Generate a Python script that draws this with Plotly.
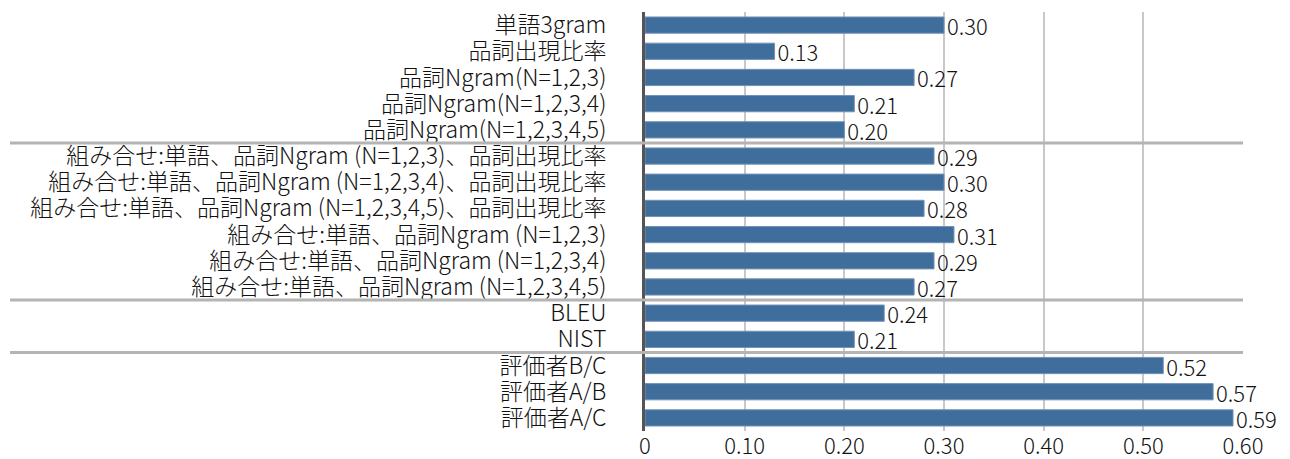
import plotly.graph_objects as go

# Correlation scores per evaluation method (top to bottom)
methods = [
    "単語3gram",
    "品詞出現比率",
    "品詞Ngram(N=1,2,3)",
    "品詞Ngram(N=1,2,3,4)",
    "品詞Ngram(N=1,2,3,4,5)",
    "組み合せ:単語、品詞Ngram (N=1,2,3)、品詞出現比率",
    "組み合せ:単語、品詞Ngram (N=1,2,3,4)、品詞出現比率",
    "組み合せ:単語、品詞Ngram (N=1,2,3,4,5)、品詞出現比率",
    "組み合せ:単語、品詞Ngram (N=1,2,3)",
    "組み合せ:単語、品詞Ngram (N=1,2,3,4)",
    "組み合せ:単語、品詞Ngram (N=1,2,3,4,5)",
    "BLEU",
    "NIST",
    "評価者B/C",
    "評価者A/B",
    "評価者A/C",
]
scores = [0.30, 0.13, 0.27, 0.21, 0.20, 0.29, 0.30, 0.28, 0.31, 0.29, 0.27,
          0.24, 0.21, 0.52, 0.57, 0.59]
x_ticks = [0, 0.1, 0.2, 0.3, 0.4, 0.5, 0.6]
x_tick_labels = ["0", "0.10", "0.20", "0.30", "0.40", "0.50", "0.60"]
# group boundaries (between row indices)
group_breaks = [4.5, 10.5, 12.5]

FONT = "Noto Sans CJK JP"

fig = go.Figure(
    go.Bar(
        x=scores,
        y=methods,
        orientation="h",
        marker=dict(color="#3f6d9c", line=dict(color="#7393b5", width=1)),
        text=[f"{v:.2f}" for v in scores],
        textposition="outside",
        constraintext="none",
        textfont=dict(family=FONT, size=22, color="#111111", weight=300),
        cliponaxis=False,
        width=0.62,
    )
)

L, R = 645, 47
plot_w = 1290 - L - R
sep_x0 = -(L - 10) / plot_w

for b in group_breaks:
    fig.add_shape(
        type="line", xref="paper", yref="y",
        x0=sep_x0, x1=1, y0=b, y1=b,
        line=dict(color="#b4b4b4", width=3),
        layer="above",
    )

fig.update_layout(
    width=1290, height=459,
    margin=dict(l=L, r=R, t=12, b=28, autoexpand=False),
    paper_bgcolor="white", plot_bgcolor="white",
    showlegend=False,
    font=dict(family=FONT, color="#111111"),
    xaxis=dict(
        range=[0, 0.6],
        tickvals=x_ticks, ticktext=x_tick_labels,
        showgrid=True, gridcolor="#c8c8c8", gridwidth=2,
        zeroline=False, showline=False,
        tickfont=dict(family=FONT, size=22, color="#111111", weight=300),
        ticks="", ticklabelstandoff=0,
        automargin=False,
    ),
    yaxis=dict(
        type="category",
        autorange="reversed",
        tickmode="array", tickvals=methods, ticktext=methods,
        showgrid=False, zeroline=False,
        showline=True, linecolor="#555555", linewidth=3,
        ticks="", ticklabelstandoff=31,
        tickfont=dict(family=FONT, size=23, color="#111111", weight=300),
        automargin=False,
    ),
)

fig.write_html("out.html")
